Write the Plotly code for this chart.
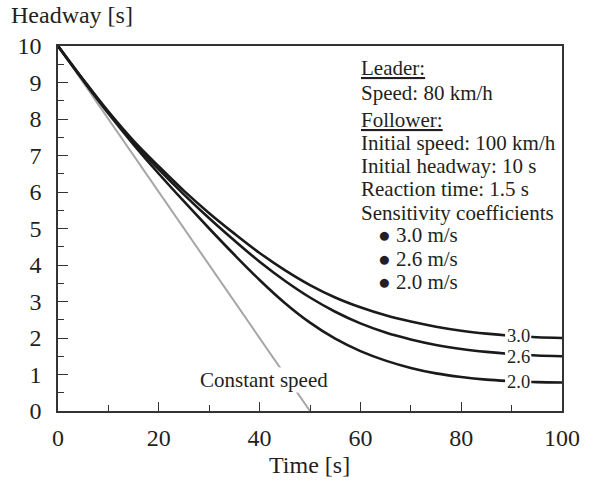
import plotly.graph_objects as go

# ---- data ----
time_s = [0, 5, 10, 15, 20, 25, 30, 35, 40, 45, 50, 55, 60, 65, 70, 75, 80, 85, 90, 95, 100]
headway_30 = [10.0, 9.08, 8.20, 7.40, 6.70, 6.03, 5.42, 4.86, 4.33, 3.86, 3.45, 3.11, 2.84, 2.62, 2.45, 2.31, 2.20, 2.12, 2.06, 2.02, 2.00]
headway_26 = [10.0, 9.07, 8.18, 7.36, 6.62, 5.93, 5.28, 4.67, 4.09, 3.57, 3.11, 2.72, 2.40, 2.15, 1.96, 1.81, 1.70, 1.62, 1.56, 1.52, 1.50]
headway_20 = [10.0, 9.06, 8.15, 7.30, 6.50, 5.74, 5.00, 4.28, 3.59, 2.96, 2.42, 1.98, 1.64, 1.38, 1.18, 1.03, 0.93, 0.86, 0.82, 0.79, 0.78]
const_t = [0, 50]
const_h = [10, 0]
curve_labels = ["3.0", "2.6", "2.0"]
label_t = 91.4
label_h = [2.06, 1.49, 0.80]

info_lines = ["<u>Leader:</u>", "Speed: 80 km/h", "<u>Follower:</u>", "Initial speed: 100 km/h",
              "Initial headway: 10 s", "Reaction time: 1.5 s", "Sensitivity coefficients"]
info_y = [9.40, 8.71, 7.97, 7.34, 6.71, 6.08, 5.42]
bullet_lines = ["\u25cf 3.0 m/s", "\u25cf 2.6 m/s", "\u25cf 2.0 m/s"]
bullet_y = [4.82, 4.16, 3.53]

FONT = "Liberation Serif, Times New Roman, serif"
TXT = "#231f20"

fig = go.Figure()
fig.add_trace(go.Scatter(x=const_t, y=const_h, mode="lines",
                         line=dict(color="#a4a6a8", width=2), hoverinfo="skip"))
for ys in [headway_30, headway_26, headway_20]:
    fig.add_trace(go.Scatter(x=time_s, y=ys, mode="lines",
                             line=dict(color="#1a1a1a", width=2.6, shape="spline"),
                             hoverinfo="skip"))

shapes = []
ann = []
for lab, yv in zip(curve_labels, label_h):
    # white patch that breaks the curve where its label sits
    shapes.append(dict(type="rect", xref="x", yref="y", x0=label_t - 2.7, x1=label_t + 2.5,
                       y0=yv - 0.17, y1=yv + 0.17, fillcolor="white", line=dict(width=0),
                       layer="above"))
    ann.append(dict(x=label_t, y=yv, xref="x", yref="y", text=lab, showarrow=False,
                    font=dict(size=18.5, family=FONT, color=TXT)))
ann.append(dict(x=40.9, y=0.85, xref="x", yref="y", text="Constant speed", showarrow=False,
                bgcolor="white", borderpad=0, font=dict(size=21, family=FONT, color=TXT)))
for t, yv in zip(info_lines, info_y):
    ann.append(dict(x=59.65, y=yv, xref="x", yref="y", text=t, showarrow=False, xanchor="left",
                    font=dict(size=21, family=FONT, color=TXT)))
for t, yv in zip(bullet_lines, bullet_y):
    ann.append(dict(x=63.0, y=yv, xref="x", yref="y", text=t, showarrow=False, xanchor="left",
                    font=dict(size=21, family=FONT, color=TXT)))

W, H = 592, 484
L, R, T, B = 58, 21, 46, 73
pw, ph = W - L - R, H - T - B


def px_to_paper(px, py):
    return (px - L) / pw, 1 - (py - T) / ph


hx, hy = px_to_paper(8, 15)
ann.append(dict(x=hx, y=hy, xref="paper", yref="paper", text="Headway [s]", showarrow=False,
                xanchor="left", yanchor="middle", font=dict(size=24, family=FONT, color=TXT)))
tx, ty = px_to_paper(314, 465)
ann.append(dict(x=tx, y=ty, xref="paper", yref="paper", text="Time [s]", showarrow=False,
                xanchor="center", yanchor="middle", font=dict(size=24, family=FONT, color=TXT)))

fig.update_layout(
    width=W, height=H, margin=dict(l=L, r=R, t=T, b=B),
    paper_bgcolor="white", plot_bgcolor="white", showlegend=False,
    annotations=ann, shapes=shapes,
    font=dict(family=FONT, size=24, color=TXT),
)
fig.update_xaxes(range=[0, 100], tickvals=[0, 20, 40, 60, 80, 100], ticks="inside", ticklen=9,
                 tickwidth=1.3, tickcolor="#333", showline=True, linecolor="#333", linewidth=1.6,
                 mirror=True, showgrid=False, zeroline=False,
                 minor=dict(dtick=10, tick0=0, ticks="inside", ticklen=6, tickcolor="#333", tickwidth=1.3),
                 tickfont=dict(size=24, family=FONT, color=TXT), ticklabelstandoff=4)
fig.update_yaxes(range=[0, 10], tickvals=list(range(0, 11)), ticks="inside", ticklen=10,
                 tickwidth=1.3, tickcolor="#333", showline=True, linecolor="#333", linewidth=1.6,
                 mirror=True, showgrid=False, zeroline=False,
                 minor=dict(dtick=0.5, tick0=0, ticks="inside", ticklen=6, tickcolor="#333", tickwidth=1.3),
                 tickfont=dict(size=24, family=FONT, color=TXT), ticklabelstandoff=10)

fig.write_html("out.html")
